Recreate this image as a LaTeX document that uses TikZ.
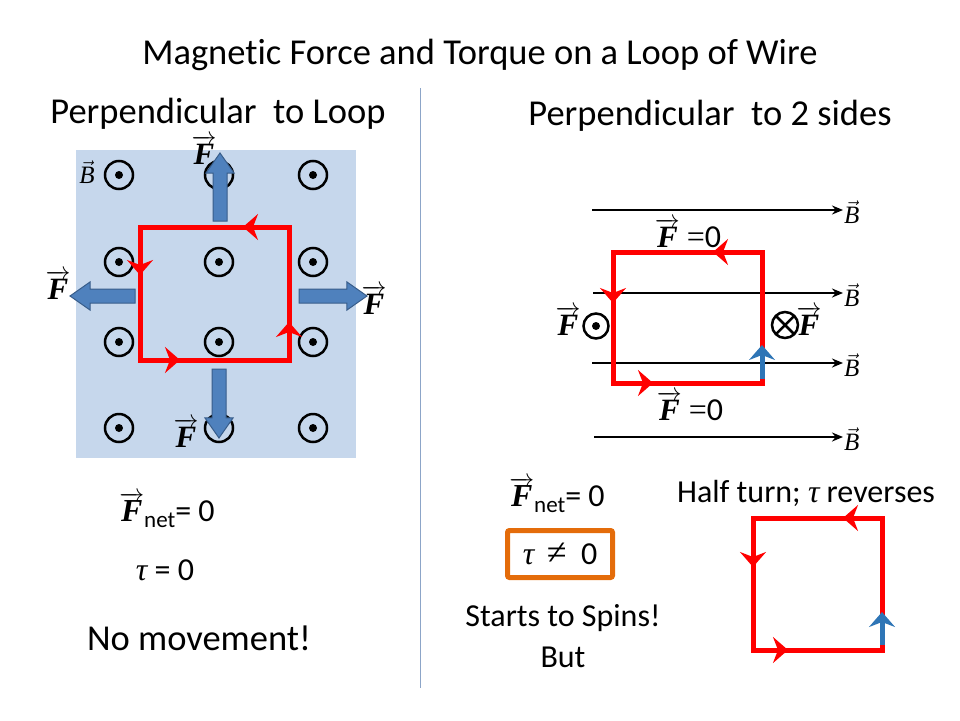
\documentclass[tikz,border=0pt]{standalone}
\usepackage{fontspec}
\setmainfont{Carlito}[Ligatures=NoCommon]
\newfontfamily\symfont{Liberation Serif}
\usetikzlibrary{arrows.meta,shapes.arrows,decorations.markings}
\definecolor{fieldblue}{RGB}{198,215,236}
\definecolor{forceblue}{RGB}{79,129,189}
\definecolor{forceedge}{RGB}{56,93,138}
\definecolor{flowblue}{RGB}{46,117,182}
\definecolor{boxorange}{RGB}{228,108,10}
\definecolor{divider}{RGB}{140,165,200}
\newcommand{\vF}{$\overrightarrow{\mbox{\symfont\bfseries\itshape F}}$}
\newcommand{\vB}{$\vec{\mbox{\symfont\itshape B}}$}
\newcommand{\tauv}{{\symfont\itshape τ}}
\newcommand{\netF}{\vF\raisebox{-0.35ex}{\fontsize{23}{26}\selectfont net}}
\newcommand{\zeroF}{{\fontsize{32}{36}\selectfont{\symfont =}0}}

\begin{document}
\begin{tikzpicture}[x=1pt,y=-1pt,
    big text/.style={font=\fontsize{36.5}{42}\selectfont},
    mid text/.style={font=\fontsize{32}{38}\selectfont},
    force label/.style={font=\fontsize{31}{34}\selectfont,inner sep=0pt},
    b label/.style={font=\fontsize{25}{28}\selectfont,inner sep=1pt},
    out dot/.style={circle,draw,line width=2.5pt,minimum size=28pt,inner sep=0pt,
        path picture={\fill (path picture bounding box.center) circle (4pt);}},
    in cross/.style={circle,draw,line width=2.5pt,minimum size=26pt,inner sep=0pt,
        path picture={\draw[line width=2.5pt] (path picture bounding box.south west) -- (path picture bounding box.north east)
            (path picture bounding box.north west) -- (path picture bounding box.south east);}},
    push arrow/.style={single arrow,draw=forceedge,fill=forceblue,line width=1pt,
        inner xsep=0pt,inner ysep=6.5pt,minimum width=23pt,single arrow tip angle=70},
    wiretip/.tip={Stealth[length=15pt,width=26pt,inset=5pt]},
    wire/.style={red,line width=5pt,line join=miter},
    flow/.style={flowblue,line width=5pt,-wiretip},
    field line/.style={-{Stealth[length=11pt,width=9pt]},line width=2pt}
  ]
  \useasboundingbox (0,0) rectangle (960,720);

  \node[big text] (title) at (480,55) {Magnetic Force and Torque on a Loop of Wire};
  \node[big text] (lhead) at (218,114) {Perpendicular~ to Loop};
  \node[big text] (rhead) at (710,116) {Perpendicular~ to 2 sides};
  \draw[divider] (420,88) -- (420,688);

  % field out of the page
  \fill[fieldblue] (76,150) rectangle (356,458);
  \node[b label] (bout) at (87,172) {\vB};
  \node[out dot] (d11) at (119,175) {};
  \node[out dot] (d12) at (219,175) {};
  \node[out dot] (d13) at (313,175) {};
  \node[out dot] (d21) at (119,262) {};
  \node[out dot] (d22) at (219,262) {};
  \node[out dot] (d23) at (313,262) {};
  \node[out dot] (d31) at (119,342) {};
  \node[out dot] (d32) at (219,342) {};
  \node[out dot] (d33) at (313,342) {};
  \node[out dot] (d41) at (119,428) {};
  \node[out dot] (d42) at (219,428) {};
  \node[out dot] (d43) at (313,428) {};

  \node[push arrow,minimum height=68pt,rotate=90] (pt) at (220,192) {};
  \node[push arrow,minimum height=65pt,rotate=180] (pl) at (107.5,296) {};
  \node[push arrow,minimum height=68pt] (pr) at (328,296) {};
  \node[push arrow,minimum height=69pt,rotate=-90] (pb) at (219,398.5) {};

  \draw[wire,postaction={decorate},decoration={markings,
      mark=at position 46pt with {\arrow{wiretip}},
      mark=at position 197pt with {\arrow{wiretip}},
      mark=at position 322pt with {\arrow{wiretip}},
      mark=at position 469pt with {\arrow{wiretip}}}]
    (289,227) -- (140,227) -- (140,360) -- (289,360) -- cycle;

  \node[force label] (ft) at (204,150) {\vF};
  \node[force label] (fl) at (58,285) {\vF};
  \node[force label] (fr) at (374,300) {\vF};
  \node[force label] (fb) at (186,433) {\vF};

  \node[mid text] (fnetl) at (167,510) {\netF= 0};
  \node[mid text] (taul) at (165,570) {\tauv\ = 0};
  \node[big text] (still) at (199,638) {No movement!};

  % field along the page
  \coordinate (s1) at (592,210);
  \coordinate (s2) at (593,293);
  \coordinate (s3) at (592,363);
  \coordinate (s4) at (594,437);
  \node[b label,anchor=west] (b1) at (843,212) {\vB};
  \node[b label,anchor=west] (b2) at (843,295) {\vB};
  \node[b label,anchor=west] (b3) at (843,365) {\vB};
  \node[b label,anchor=west] (b4) at (843,439) {\vB};
  \path[field line]
    (s1) edge (s1 -| b1.west)
    (s2) edge (s2 -| b2.west)
    (s3) edge (s3 -| b3.west)
    (s4) edge (s4 -| b4.west);

  \draw[wire,postaction={decorate},decoration={markings,
      mark=at position 49pt with {\arrow{wiretip}},
      mark=at position 200pt with {\arrow{wiretip}},
      mark=at position 320pt with {\arrow{wiretip}}}]
    (762,252) -- (613,252) -- (613,383) -- (762,383) -- cycle;
  \draw[flow] (762,379) -- (762,345);

  \node[force label] (fzt) at (688,233) {\vF\ \zeroF};
  \node[force label] (fzb) at (690,406) {\vF\ \zeroF};
  \node[force label] (fo) at (568,321) {\vF};
  \node[out dot,minimum size=25pt] (fodot) at (596,326) {};
  \node[in cross] (fxc) at (785,325) {};
  \node[force label] (fx) at (809,321) {\vF};

  \node[mid text] (fnetr) at (557,495) {\netF= 0};
  \node[mid text,draw=boxorange,line width=5pt,rounded corners=2pt,
    minimum width=105pt,minimum height=47pt] (tbox) at (560,554) {\tauv\ \,{\symfont\fontsize{36}{38}\selectfont ≠}\ \ 0};
  \node[mid text] (spin) at (563,618) {Starts to Spins!};
  \node[mid text] (but) at (563,657) {But};
  \node[mid text] (half) at (806,493) {Half turn; \tauv\ reverses};

  \draw[wire,postaction={decorate},decoration={markings,
      mark=at position 39pt with {\arrow{wiretip}},
      mark=at position 178pt with {\arrow{wiretip}},
      mark=at position 296pt with {\arrow{wiretip}}}]
    (882,518) -- (753,518) -- (753,650) -- (882,650) -- cycle;
  \draw[flow] (882,645) -- (882,612);
\end{tikzpicture}
\end{document}
